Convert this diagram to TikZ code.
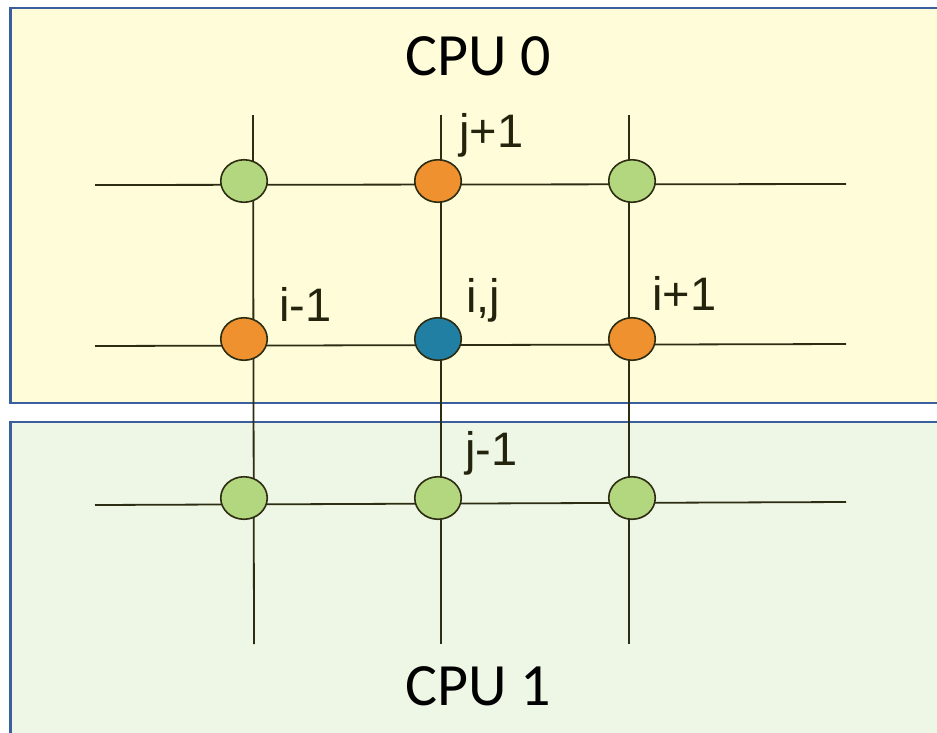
\documentclass[tikz,border=0pt]{standalone}
\usepackage{fontspec}
\setmainfont{Liberation Sans}
\newfontfamily\cpufont{Carlito}
\newfontfamily\lblfont{Liberation Sans}
\usetikzlibrary{shapes.geometric}
\definecolor{boxblue}{RGB}{59,94,158}
\definecolor{cpuyellow}{RGB}{255,253,217}
\definecolor{cpugreen}{RGB}{238,246,229}
\definecolor{gridline}{RGB}{45,45,20}
\definecolor{ptorange}{RGB}{238,145,46}
\definecolor{ptgreen}{RGB}{179,215,126}
\definecolor{ptblue}{RGB}{33,127,163}
\definecolor{lbltext}{RGB}{36,36,14}

\begin{document}
\begin{tikzpicture}[x=1pt, y=-1pt,
        cpubox/.style={draw=boxblue, line width=2.6pt},
        gridln/.style={draw=gridline, line width=1.8pt},
        pt/.style={ellipse, draw=gridline, line width=1.6pt,
            minimum width=46.5pt, minimum height=42.5pt, inner sep=0pt},
        cpulabel/.style={font=\cpufont\fontsize{60}{60}\selectfont, text=black,
            anchor=base, inner sep=0pt},
        lbl/.style={font=\lblfont\fontsize{47}{47}\selectfont, text=lbltext,
            anchor=base west, inner sep=0pt}
    ]
        \useasboundingbox (0,0) rectangle (937,732);
        % the two CPU domains
        \path[cpubox, fill=cpuyellow] (10.5,8) rectangle (950,403);
        \path[cpubox, fill=cpugreen] (10.5,422) rectangle (950,760);

        % grid lines
        \coordinate (r1w) at (95,185);  \coordinate (r1e) at (846,184);
        \coordinate (r2w) at (95,346);  \coordinate (r2e) at (846,344);
        \coordinate (r3w) at (95,505);  \coordinate (r3e) at (846,502);
        \coordinate (c1n) at (253,115); \coordinate (c1s) at (254,644);
        \coordinate (c2n) at (441,115); \coordinate (c2s) at (441,644);
        \coordinate (c3n) at (629,115); \coordinate (c3s) at (629,644);
        \draw[gridln] (r1w) -- (r1e);
        \draw[gridln] (r2w) -- (r2e);
        \draw[gridln] (r3w) -- (r3e);
        \draw[gridln] (c1n) -- (c1s);
        \draw[gridln] (c2n) -- (c2s);
        \draw[gridln] (c3n) -- (c3s);

        % grid points
        \node[pt, fill=ptgreen]  (tl)  at (244,181) {};
        \node[pt, fill=ptorange] (jp1) at (438,181) {};
        \node[pt, fill=ptgreen]  (tr)  at (632,181) {};
        \node[pt, fill=ptorange] (im1) at (244,339) {};
        \node[pt, fill=ptblue]   (ij)  at (438,339) {};
        \node[pt, fill=ptorange] (ip1) at (632,339) {};
        \node[pt, fill=ptgreen]  (bl)  at (244,498) {};
        \node[pt, fill=ptgreen]  (jm1) at (438,498) {};
        \node[pt, fill=ptgreen]  (br)  at (632,498) {};

        % labels
        \node[cpulabel] (cpu0) at (478,75) {CPU 0};
        \node[cpulabel] (cpu1) at (478,705) {CPU 1};
        \node[lbl] (ljp1) at (459,147) {j+1};
        \node[lbl] (lim1) at (279,321) {i-1};
        \node[lbl] (lij)  at (466,312) {i,j};
        \node[lbl] (lip1) at (652,310) {i+1};
        \node[lbl] (ljm1) at (465,465) {j-1};
    \end{tikzpicture}
\end{document}
